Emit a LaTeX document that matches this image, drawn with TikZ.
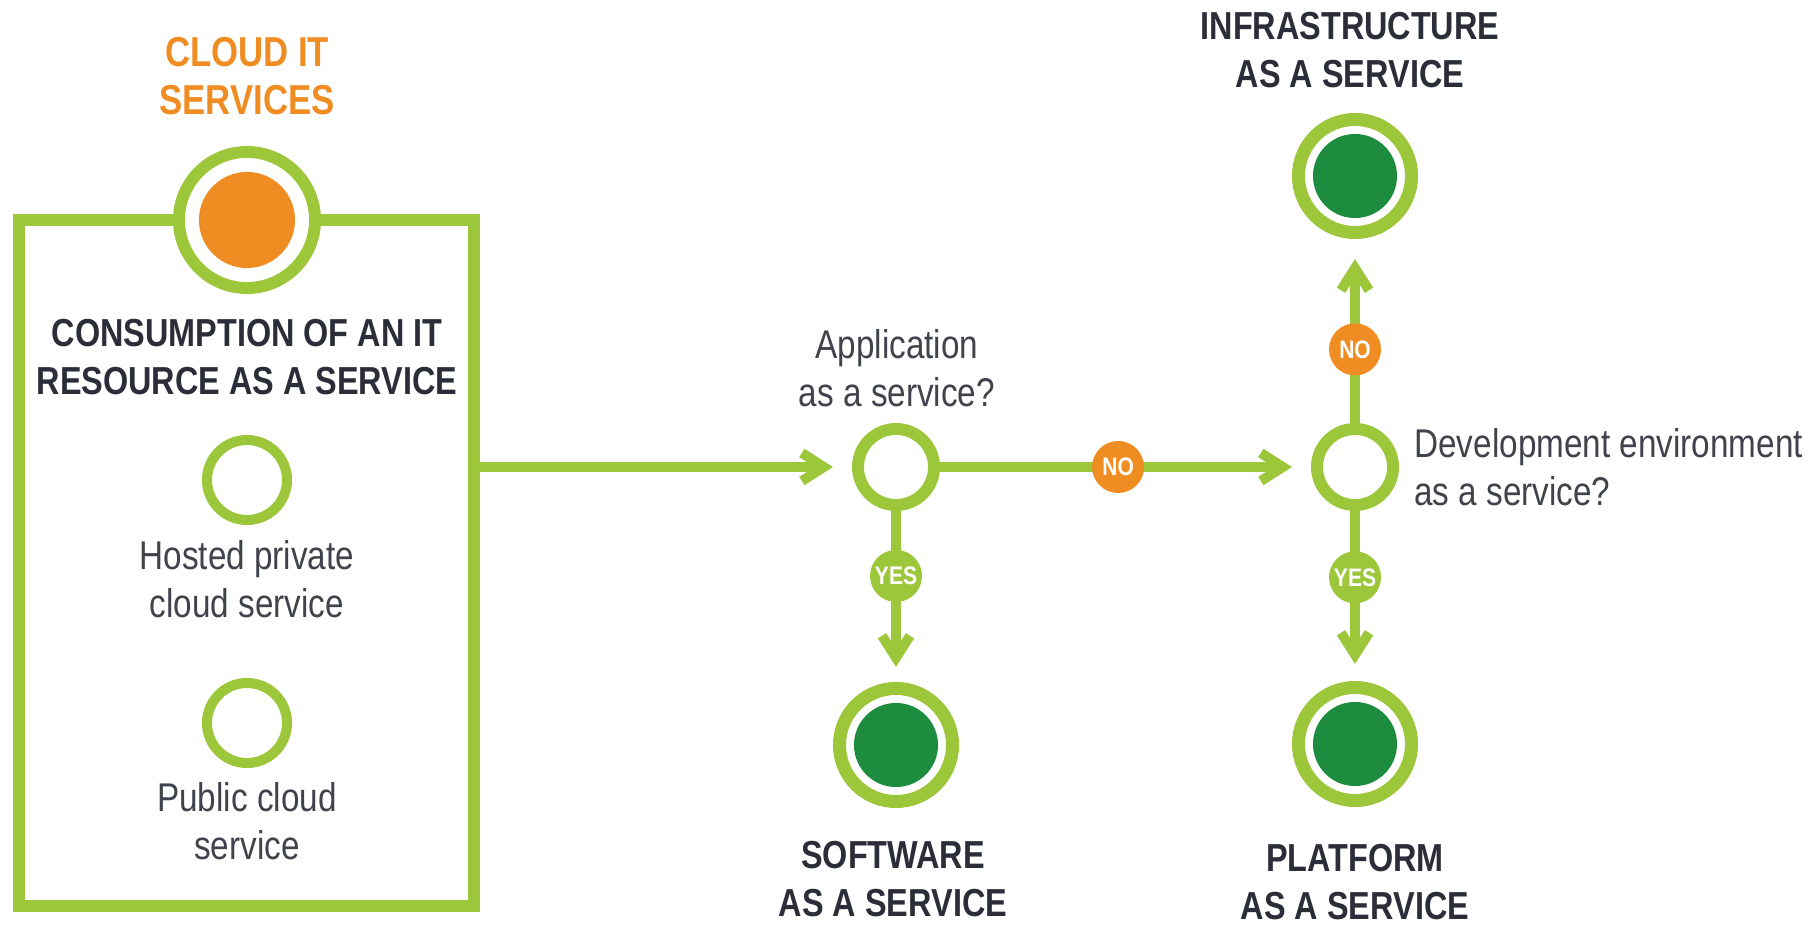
\documentclass[tikz,border=0pt]{standalone}
\usepackage{fontspec}
\setmainfont{Liberation Sans}[FakeStretch=0.83]
\usepackage{xcolor}
\usepackage{tikz}
\usetikzlibrary{arrows.meta}
\definecolor{lime}{HTML}{9DC73B}
\definecolor{tangerine}{HTML}{F08D22}
\definecolor{leaf}{HTML}{1E8C3E}
\definecolor{ink}{HTML}{2B2D38}
\tikzset{
ring/.style = {circle, draw=lime, fill=white, line width=3.4pt,
               minimum size=#1, inner sep=0pt},
ring/.default = 0.76cm, % path diameter of the question circles
core/.style = {circle, fill=#1, minimum size=0.84cm, inner sep=0pt},
core/.default = leaf,
result/.style = {ring=1.13cm, line width=3.7pt},
badge/.style = {circle, fill=#1, text=white, minimum size=0.52cm, inner sep=0pt,
                font=\bfseries\fontsize{7.2}{8}\selectfont},
frame/.style = {rectangle, draw=lime, line width=3.4pt, inner sep=0pt},
heading/.style = {align=center, text=ink, font=\bfseries\fontsize{11.1}{13.6}\selectfont},
remark/.style = {align=center, text=ink!90, font=\fontsize{11.4}{13.6}\selectfont},
flow/.style = {draw=lime, line width=2.8pt}
}

\begin{document}
\begin{tikzpicture}[x=0.01cm, y=-0.01cm]
  \useasboundingbox (0,0) rectangle (1816,925);

  % Left box
    \node[frame, minimum width=4.55cm, minimum height=6.86cm] (frame) at (246.5,563) {};
    \node[heading, text=tangerine, font=\bfseries\fontsize{11.9}{13.6}\selectfont] (cloudText) at (247,76) {CLOUD IT\\SERVICES};
    \node[ring=1.36cm] (cloud) at (247,220) {};
    \node[core=tangerine, minimum size=0.96cm] (cloudCore) at (cloud) {};
    \node[heading] (consumeText) at (247,357) {CONSUMPTION OF AN IT\\RESOURCE AS A SERVICE};
    \node[ring=0.8cm, line width=2.85pt] (hosted) at (247,480) {};
    \node[remark] (hostedText) at (247,579) {Hosted private\\cloud service};
    \node[ring=0.8cm, line width=2.85pt] (public) at (247,723) {};
    \node[remark] (publicText) at (247,821) {Public cloud\\service};

  % Questions
    \node[ring] (app) at (896,467) {};
    \node[remark] (appText) at (897,368) {Application\\as a service?};
    \node[ring] (dev) at (1355,467) {};
    \node[remark, anchor=west, align=left] (devText) at (1402,467) {Development environment\\as a service?};

  % Results
    \node[result] (saas) at (896,745) {};
    \node[core] (saasCore) at (saas) {};
    \node[heading] (saasText) at (893,879) {SOFTWARE\\AS A SERVICE};
    \node[result] (paas) at (1355,744) {};
    \node[core] (paasCore) at (paas) {};
    \node[heading] (paasText) at (1355,882) {PLATFORM\\AS A SERVICE};
    \node[result] (iaas) at (1355,176) {};
    \node[core] (iaasCore) at (iaas) {};
    \node[heading] (iaasText) at (1350,50) {INFRASTRUCTURE\\AS A SERVICE};

  % Lines
    \draw[flow, -{Straight Barb[length=2.2mm, width=2.8mm]}, shorten >=0.19cm] (frame.east |- app) -- (app);
    \draw[flow, -{Straight Barb[length=2.2mm, width=2.8mm]}, shorten >=0.19cm] (app) -- node[badge=tangerine, pos=0.48] (noApp) {NO} (dev);
    \draw[flow, -{Straight Barb[length=2.2mm, width=2.8mm]}, shorten >=0.15cm] (app) -- node[badge=lime, pos=0.38] (yesApp) {YES} (saas);
    \draw[flow, -{Straight Barb[length=2.2mm, width=2.8mm]}, shorten >=0.2cm] (dev) -- node[badge=tangerine, pos=0.4] (noDev) {NO} (iaas);
    \draw[flow, -{Straight Barb[length=2.2mm, width=2.8mm]}, shorten >=0.17cm] (dev) -- node[badge=lime, pos=0.39] (yesDev) {YES} (paas);
\end{tikzpicture}
\end{document}
